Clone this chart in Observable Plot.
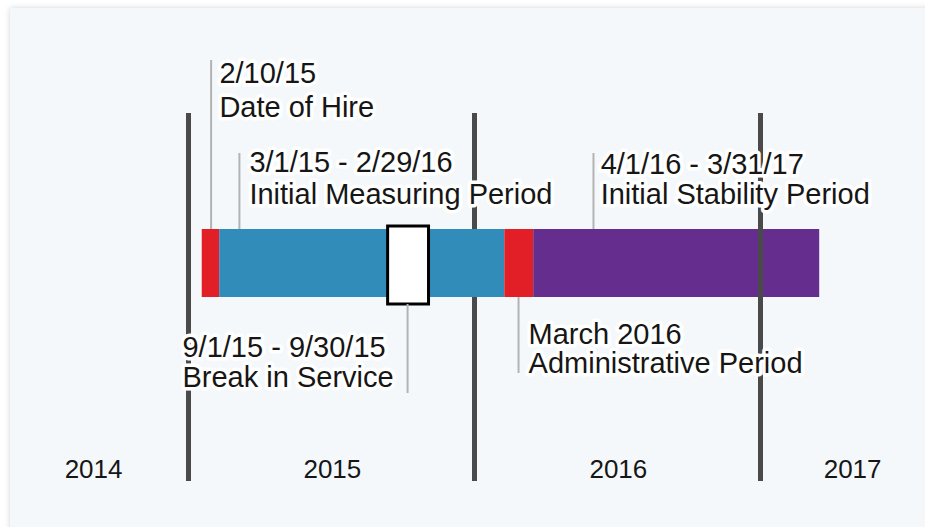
<!DOCTYPE html>
<html><head><meta charset="utf-8">
<script src="https://cdn.jsdelivr.net/npm/d3@7"></script>
<script src="https://cdn.jsdelivr.net/npm/@observablehq/plot@0.6"></script>
<style>
html,body{margin:0;padding:0;background:#fff;width:925px;height:527px;overflow:hidden;}
#card{position:absolute;left:10px;top:8px;width:960px;height:560px;background:#f4f8fb;box-shadow:0 0 6px rgba(0,0,0,0.16);}
#chart{position:absolute;left:0;top:0;}
</style></head><body><div id="card"></div><div id="chart"></div>
<script>
// ---------- DATA (x values in fractional years) ----------
const yearBoundaries = [2015, 2016, 2017];
const yearLinesOverBar = [2017];
const yearLabels = ["2014", "2015", "2016", "2017"];
const yearLabelX = [2014.668, 2015.503, 2016.503, 2017.322];

const segmentNames = ["Date of Hire", "Initial Measuring Period", "Administrative Period", "Initial Stability Period"];
const segmentStart = [2015.048, 2015.109, 2016.106, 2016.207];
const segmentEnd   = [2015.109, 2016.106, 2016.207, 2017.207];

const breakInService = [2015.698, 2015.841];

const noteDates  = ["2/10/15", "3/1/15 - 2/29/16", "4/1/16 - 3/31/17", "March 2016", "9/1/15 - 9/30/15"];
const noteTitles = ["Date of Hire", "Initial Measuring Period", "Initial Stability Period", "Administrative Period", "Break in Service"];
const noteTextX   = [2015.108, 2015.213, 2016.441, 2016.189, 2014.979];
const noteLeaderX = [2015.079, 2015.178, 2016.416, 2016.154, 2015.766];

// ---------- STYLE / LAYOUT ----------
const FONT = "'Liberation Sans', Arial, sans-serif";
const segmentColors = ["#e21f26", "#318cba", "#e21f26", "#652d8e"];
const L = {
  barTop: 229, barBottom: 297, boxTop: 226, boxBottom: 304,
  yearTop: 113, yearBottom: 481, yearBaseline: 477,
  line1: [82.7, 171.7, 173, 343, 356.7],
  line2: [116.7, 203.3, 203, 372, 386.7],
  leaderTop: [60, 153, 153, 297, 304],
  leaderBottom: [229, 229, 229, 373, 393]
};
const FS = 29, FSY = 26;

const segments = segmentNames.map((name, i) => ({name, x1: segmentStart[i], x2: segmentEnd[i], color: segmentColors[i]}));
const notes = noteDates.map((d, i) => ({
  date: d, title: noteTitles[i], tx: noteTextX[i], lx: noteLeaderX[i],
  b1: L.line1[i], b2: L.line2[i], lt: L.leaderTop[i], lb: L.leaderBottom[i]
}));
const years = yearLabels.map((t, i) => ({t, x: yearLabelX[i]}));

const textOpts = {textAnchor: "start", fontSize: FS, fill: "#161616", stroke: "white", strokeWidth: 7, fontFamily: FONT};

const chart = Plot.plot({
  width: 925, height: 527,
  marginTop: 0, marginRight: 0, marginBottom: 0, marginLeft: 0,
  style: {background: "transparent", fontFamily: FONT},
  x: {domain: [2015, 2017], range: [188, 760], axis: null},
  y: {type: "identity", axis: null},
  color: {type: "identity"},
  marks: [
    Plot.ruleX(yearBoundaries, {x: d => d, y1: L.yearTop, y2: L.yearBottom, stroke: "#4a4a4a", strokeWidth: 5}),
    Plot.rect(segments, {x1: "x1", x2: "x2", y1: L.barTop, y2: L.barBottom, fill: "color"}),
    Plot.rect([breakInService], {x1: d => d[0], x2: d => d[1], y1: L.boxTop, y2: L.boxBottom, fill: "white", stroke: "black", strokeWidth: 3}),
    Plot.ruleX(yearLinesOverBar, {x: d => d, y1: L.barTop, y2: L.barBottom, stroke: "#4a4a4a", strokeWidth: 5}),
    Plot.ruleX(notes, {x: "lx", y1: "lt", y2: "lb", stroke: "#b3b3b3", strokeWidth: 2}),
    Plot.text(notes, {...textOpts, x: "tx", y: d => d.b1 - 0.32 * FS, text: "date"}),
    Plot.text(notes, {...textOpts, x: "tx", y: d => d.b2 - 0.32 * FS, text: "title"}),
    Plot.text(years, {x: "x", y: L.yearBaseline - 0.32 * FSY, text: "t", fontSize: FSY, fill: "#161616", fontFamily: FONT})
  ]
});
document.getElementById("chart").appendChild(chart);
</script>
</body></html>
